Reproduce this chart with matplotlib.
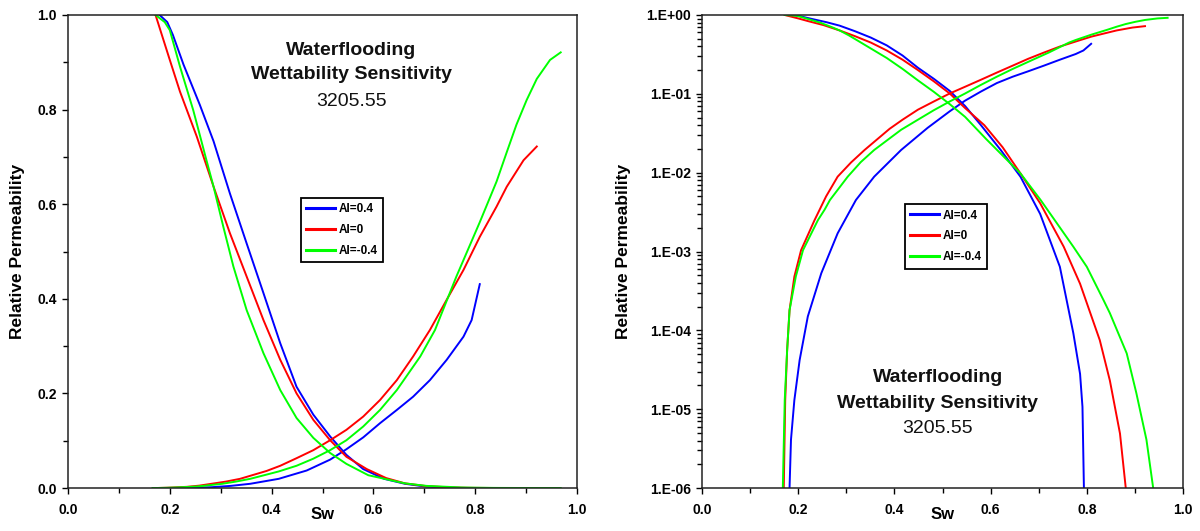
import math
import matplotlib
matplotlib.use("Agg")
import matplotlib.pyplot as plt
from matplotlib.ticker import MultipleLocator, FixedLocator, FuncFormatter, NullFormatter

plt.rcParams['font.family'] = ['Liberation Sans', 'DejaVu Sans']

# ---- data -------------------------------------------------------------
labels = ["AI=0.4", "AI=0", "AI=-0.4"]
colors = ["#0000ff", "#ff0000", "#00ff00"]

# AI = 0.4
sw_krw_pos = [0.180, 0.182, 0.185, 0.192, 0.203, 0.220, 0.248, 0.282, 0.320, 0.358,
              0.414, 0.469, 0.515, 0.547, 0.580, 0.613, 0.646, 0.678, 0.711, 0.744,
              0.777, 0.793, 0.809]
krw_pos = [0.0, 1e-6, 4.1e-6, 1.3e-5, 4.2e-5, 1.5e-4, 5.3e-4, 1.7e-3, 4.5e-3, 8.9e-3,
           0.0194, 0.037, 0.060, 0.082, 0.107, 0.137, 0.165, 0.193, 0.228, 0.271,
           0.320, 0.355, 0.431]
sw_kro_pos = [0.180, 0.195, 0.206, 0.227, 0.259, 0.286, 0.318, 0.351, 0.384, 0.417,
              0.449, 0.482, 0.515, 0.547, 0.580, 0.621, 0.662, 0.703, 0.744, 0.772,
              0.786, 0.791, 0.794, 0.795, 0.809]
kro_pos = [1.0, 0.985, 0.958, 0.895, 0.810, 0.733, 0.623, 0.517, 0.412, 0.306,
           0.214, 0.155, 0.109, 0.070, 0.040, 0.0194, 0.0089, 0.0030, 6.4e-4, 9.2e-5,
           2.8e-5, 1.07e-5, 1e-6, 0.0, 0.0]

# AI = 0
sw_krw_neu = [0.168, 0.170, 0.173, 0.177, 0.182, 0.192, 0.206, 0.234, 0.258, 0.282,
              0.310, 0.338, 0.390, 0.417, 0.449, 0.482, 0.515, 0.547, 0.580, 0.613,
              0.646, 0.678, 0.711, 0.744, 0.777, 0.809, 0.842, 0.862, 0.895, 0.921]
krw_neu = [0.0, 1e-6, 1.3e-5, 5.6e-5, 1.8e-4, 4.8e-4, 1.04e-3, 2.5e-3, 5.0e-3, 8.9e-3,
           0.0135, 0.0194, 0.036, 0.047, 0.063, 0.080, 0.101, 0.123, 0.151, 0.186,
           0.228, 0.278, 0.334, 0.398, 0.461, 0.531, 0.595, 0.637, 0.693, 0.722]
sw_kro_neu = [0.172, 0.200, 0.220, 0.253, 0.286, 0.318, 0.351, 0.384, 0.417, 0.449,
              0.482, 0.515, 0.547, 0.587, 0.625, 0.662, 0.703, 0.752, 0.786, 0.827,
              0.848, 0.869, 0.881, 0.882, 0.921]
kro_neu = [1.0, 0.905, 0.838, 0.743, 0.637, 0.539, 0.447, 0.355, 0.271, 0.200,
           0.144, 0.101, 0.066, 0.040, 0.021, 0.0098, 0.0041, 1.15e-3, 3.9e-4, 7.5e-5,
           2.3e-5, 4.9e-6, 1e-6, 0.0, 0.0]

# AI = -0.4
sw_krw_neg = [0.166, 0.168, 0.172, 0.177, 0.182, 0.195, 0.210, 0.241, 0.255, 0.266,
              0.303, 0.330, 0.358, 0.414, 0.449, 0.482, 0.515, 0.547, 0.580, 0.613,
              0.646, 0.692, 0.721, 0.763, 0.777, 0.809, 0.842, 0.862, 0.881, 0.901,
              0.921, 0.947, 0.968]
krw_neg = [0.0, 1e-6, 1.3e-5, 5.6e-5, 1.8e-4, 4.8e-4, 1.04e-3, 2.5e-3, 3.4e-3, 4.5e-3,
           8.9e-3, 0.0136, 0.0194, 0.035, 0.047, 0.062, 0.080, 0.101, 0.130, 0.165,
           0.207, 0.278, 0.334, 0.447, 0.482, 0.562, 0.648, 0.710, 0.768, 0.820,
           0.865, 0.905, 0.921]
sw_kro_neg = [0.172, 0.190, 0.200, 0.220, 0.246, 0.272, 0.286, 0.305, 0.325, 0.351,
              0.384, 0.417, 0.449, 0.482, 0.515, 0.547, 0.590, 0.662, 0.704, 0.772,
              0.800, 0.835, 0.848, 0.883, 0.903, 0.924, 0.938, 0.939, 0.968]
kro_neg = [1.0, 0.985, 0.968, 0.891, 0.799, 0.693, 0.637, 0.553, 0.468, 0.376,
           0.285, 0.207, 0.148, 0.106, 0.074, 0.051, 0.027, 0.0098, 0.0045, 1.15e-3,
           6.4e-4, 2.4e-4, 1.65e-4, 5.1e-5, 1.6e-5, 4.1e-6, 1e-6, 0.0, 0.0]

series = [
    (sw_krw_pos, krw_pos, sw_kro_pos, kro_pos),
    (sw_krw_neu, krw_neu, sw_kro_neu, kro_neu),
    (sw_krw_neg, krw_neg, sw_kro_neg, kro_neg),
]

title_lines = ["Waterflooding", "Wettability Sensitivity", "3205.55"]

log_decades = [-6, -5, -4, -3, -2, -1, 0]

# ---- figure -----------------------------------------------------------
fig = plt.figure(figsize=(12, 5.31), dpi=100)
ax_lin = fig.add_axes([68 / 1200, 43 / 531, 509 / 1200, 473 / 531])
ax_log = fig.add_axes([702 / 1200, 43 / 531, 481 / 1200, 473 / 531])

LW = 1.4
for (swa, kw, swb, ko), lab, col in zip(series, labels, colors):
    for ax in (ax_lin, ax_log):
        ax.plot(swa, kw, color=col, lw=LW, label=lab)
        ax.plot(swb, ko, color=col, lw=LW)

ax_log.set_yscale('log', nonpositive='clip')

for ax in (ax_lin, ax_log):
    ax.set_xlim(0, 1)
    ax.xaxis.set_major_locator(FixedLocator([0.0, 0.2, 0.4, 0.6, 0.8, 1.0]))
    ax.xaxis.set_minor_locator(FixedLocator([0.1, 0.3, 0.5, 0.7, 0.9]))
    ax.xaxis.set_major_formatter(FuncFormatter(lambda v, p: f"{v:.1f}"))
    ax.tick_params(axis='both', which='both', direction='out', width=1.0,
                   top=False, right=False)
    ax.tick_params(axis='both', which='major', length=4)
    ax.tick_params(axis='both', which='minor', length=3.5)
    ax.tick_params(axis='x', which='major', pad=7)
    ax.tick_params(axis='y', which='major', pad=4)
    for sp in ax.spines.values():
        sp.set_linewidth(1.1)
        sp.set_color('#222222')
    ax.set_xlabel("Sw", fontsize=12, fontweight='bold', va='center')
    ax.xaxis.set_label_coords(0.5, -0.057)
    ax.set_ylabel("Relative Permeability", fontsize=12.5, fontweight='bold', va='center')

ax_lin.set_ylim(0, 1)
ax_lin.yaxis.set_major_locator(FixedLocator([0.0, 0.2, 0.4, 0.6, 0.8, 1.0]))
ax_lin.yaxis.set_minor_locator(FixedLocator([0.1, 0.3, 0.5, 0.7, 0.9]))
ax_lin.yaxis.set_major_formatter(FuncFormatter(lambda v, p: f"{v:.1f}"))
ax_lin.yaxis.set_label_coords(-0.1, 0.5)

ax_log.set_ylim(1e-6, 1)
ax_log.yaxis.set_major_locator(FixedLocator([10.0 ** e for e in log_decades]))
ax_log.yaxis.set_minor_locator(FixedLocator(
    [k * 10.0 ** e for e in log_decades[:-1] for k in range(2, 10)]))
ax_log.yaxis.set_minor_formatter(NullFormatter())
ax_log.yaxis.set_major_formatter(
    FuncFormatter(lambda v, p: "1.E{:+03d}".format(int(round(math.log10(v))))))
ax_log.yaxis.set_label_coords(-0.164, 0.5)

for ax in (ax_lin, ax_log):
    for lab in ax.get_xticklabels() + ax.get_yticklabels():
        lab.set_fontsize(10)
        lab.set_fontweight('bold')

# annotation blocks
for ax, cx, ys in ((ax_lin, 0.557, (0.926, 0.875, 0.818)),
                   (ax_log, 0.490, (0.234, 0.178, 0.126))):
    for txt, yy in zip(title_lines, ys):
        ax.text(cx, yy, txt, transform=ax.transAxes, ha='center', va='center',
                fontsize=14, fontweight='bold' if txt != "3205.55" else 'normal',
                color='#111111')

# legends
for ax, anchor in ((ax_lin, (0.457, 0.613)), (ax_log, (0.421, 0.600))):
    leg = ax.legend(loc='upper left', bbox_to_anchor=anchor, fancybox=False,
                    framealpha=1, edgecolor='black', handlelength=2.5,
                    handletextpad=0.3, borderpad=0.45, labelspacing=0.75,
                    borderaxespad=0, prop=dict(size=8.5, weight='bold'))
    leg.get_frame().set_linewidth(1.3)
    for h in leg.get_lines():
        h.set_linewidth(2.2)

fig.savefig("out.png", dpi=100)
